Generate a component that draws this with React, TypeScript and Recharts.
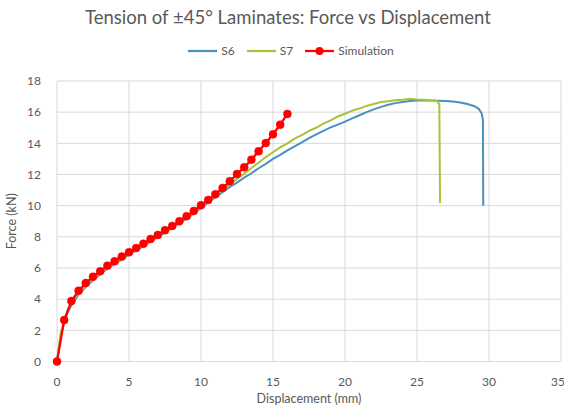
import React from 'react';
import { LineChart, Line, XAxis, YAxis, CartesianGrid, Label } from 'recharts';

const title = 'Tension of ±45° Laminates: Force vs Displacement';
const xTicks = [0, 5, 10, 15, 20, 25, 30, 35];
const yTicks = [0, 2, 4, 6, 8, 10, 12, 14, 16, 18];

// Simulation (red dots)
const simX = [0, 0.5, 1, 1.5, 2, 2.5, 3, 3.5, 4, 4.5, 5, 5.5, 6, 6.5, 7, 7.5, 8, 8.5, 9, 9.5, 10, 10.5, 11, 11.5, 12, 12.5, 13, 13.5, 14, 14.5, 15, 15.5, 16];
const simY = [0, 2.66, 3.88, 4.54, 5.04, 5.44, 5.79, 6.15, 6.43, 6.73, 7.01, 7.28, 7.56, 7.86, 8.12, 8.42, 8.7, 9.0, 9.32, 9.66, 10.03, 10.37, 10.73, 11.14, 11.57, 12.03, 12.46, 12.95, 13.49, 14.02, 14.58, 15.2, 15.89];

// S6 test (blue)
const s6X = [0, 0.25, 0.5, 0.75, 1, 1.5, 2, 2.5, 3, 3.5, 4, 4.5, 5, 5.5, 6, 6.5, 7, 7.5, 8, 8.5, 9, 9.5, 10, 10.5, 11, 11.5, 12, 12.5, 13, 13.5, 14, 14.5, 15, 15.5, 16, 16.5, 17, 17.5, 18, 18.5, 19, 19.5, 20, 20.5, 21, 21.5, 22, 22.5, 23, 23.5, 24, 24.5, 25, 25.5, 26, 26.5, 27, 27.5, 28, 28.5, 29, 29.3, 29.5, 29.58, 29.6];
const s6Y = [0, 1.6, 2.5, 3.15, 3.6, 4.3, 4.8, 5.22, 5.6, 5.95, 6.25, 6.55, 6.85, 7.13, 7.4, 7.7, 7.98, 8.28, 8.57, 8.87, 9.17, 9.5, 9.85, 10.2, 10.55, 10.86, 11.2, 11.48, 11.8, 12.08, 12.4, 12.68, 13.0, 13.26, 13.55, 13.8, 14.06, 14.34, 14.58, 14.8, 15.02, 15.2, 15.39, 15.6, 15.8, 16.0, 16.18, 16.34, 16.47, 16.58, 16.65, 16.71, 16.75, 16.76, 16.75, 16.74, 16.72, 16.68, 16.62, 16.52, 16.38, 16.2, 15.9, 15.5, 10.0];

// S7 test (green)
const s7X = [0, 0.25, 0.5, 0.75, 1, 1.5, 2, 2.5, 3, 3.5, 4, 4.5, 5, 5.5, 6, 6.5, 7, 7.5, 8, 8.5, 9, 9.5, 10, 10.5, 11, 11.5, 12, 12.5, 13, 13.5, 14, 14.5, 15, 15.5, 16, 16.5, 17, 17.5, 18, 18.5, 19, 19.5, 20, 20.5, 21, 21.5, 22, 22.5, 23, 23.5, 24, 24.5, 25, 25.5, 26, 26.4, 26.55, 26.6];
const s7Y = [0, 1.8, 2.65, 3.3, 3.75, 4.4, 4.9, 5.3, 5.67, 6.02, 6.32, 6.62, 6.92, 7.2, 7.47, 7.76, 8.05, 8.35, 8.64, 8.94, 9.25, 9.58, 9.92, 10.28, 10.65, 11.0, 11.35, 11.72, 12.05, 12.42, 12.75, 13.12, 13.43, 13.74, 14.0, 14.3, 14.52, 14.8, 15.0, 15.26, 15.47, 15.72, 15.9, 16.1, 16.23, 16.4, 16.52, 16.65, 16.7, 16.77, 16.8, 16.86, 16.82, 16.8, 16.75, 16.72, 16.5, 10.15];

const toPoints = (xs: number[], ys: number[]) => xs.map((x, i) => ({ x, y: ys[i] }));
const simData = toPoints(simX, simY);
const s6Data = toPoints(s6X, s6Y);
const s7Data = toPoints(s7X, s7Y);

const FONT = 'Lato, "Open Sans", sans-serif';
const TEXT = '#595959';
const BLUE = '#4A90C0';
const GREEN = '#A8C23A';
const RED = '#FF0000';

const LegendItem: React.FC<{ color: string; label: string; dot?: boolean }> = ({ color, label, dot }) => (
  <span style={{ display: 'inline-flex', alignItems: 'center', marginRight: 12 }}>
    <svg width={29} height={10} style={{ marginRight: 4 }}>
      <line x1={0} y1={5} x2={29} y2={5} stroke={color} strokeWidth={2.25} />
      {dot && <circle cx={14.5} cy={5} r={4} fill={color} />}
    </svg>
    {label}
  </span>
);

const App: React.FC = () => {
  return (
    <div style={{ position: 'absolute', left: 0, top: 0, width: 564, height: 407, background: '#fff', fontFamily: FONT }}>
      <div style={{ position: 'absolute', top: 6, left: 0, width: 576, textAlign: 'center', fontSize: 18.5, color: TEXT }}>
        {title}
      </div>
      <div style={{ position: 'absolute', top: 43, left: 0, width: 594, textAlign: 'center', fontSize: 12, color: TEXT, display: 'flex', justifyContent: 'center' }}>
        <LegendItem color={BLUE} label="S6" />
        <LegendItem color={GREEN} label="S7" />
        <LegendItem color={RED} label="Simulation" dot />
      </div>
      <LineChart width={564} height={407} margin={{ top: 81, right: 3, bottom: 0.5, left: 0 }} style={{ position: 'absolute', left: 0, top: 0 }}>
        <CartesianGrid stroke="#D9D9D9" strokeWidth={1} />
        <XAxis
          type="number"
          dataKey="x"
          domain={[0, 35]}
          ticks={xTicks}
          height={45}
          stroke="#D9D9D9"
          tickLine={false}
          tickMargin={10}
          tick={{ fill: TEXT, fontSize: 12, fontFamily: FONT }}
        >
          <Label value="Displacement (mm)" position="insideBottom" offset={4} style={{ fill: TEXT, fontSize: 12.5, fontFamily: FONT }} />
        </XAxis>
        <YAxis
          type="number"
          dataKey="y"
          domain={[0, 18]}
          ticks={yTicks}
          width={57}
          axisLine={false}
          tickLine={false}
          tickMargin={10}
          tick={{ fill: TEXT, fontSize: 12, fontFamily: FONT }}
        >
          <Label value="Force (kN)" angle={-90} position="insideLeft" offset={12} style={{ fill: TEXT, fontSize: 12.5, fontFamily: FONT, textAnchor: 'middle' }} />
        </YAxis>
        <Line data={s6Data} dataKey="y" type="linear" stroke={BLUE} strokeWidth={2} dot={false} isAnimationActive={false} />
        <Line data={s7Data} dataKey="y" type="linear" stroke={GREEN} strokeWidth={2} dot={false} isAnimationActive={false} />
        <Line data={simData} dataKey="y" type="linear" stroke={RED} strokeWidth={2.25} dot={{ r: 4, fill: RED, stroke: RED, strokeWidth: 0.5 }} isAnimationActive={false} />
      </LineChart>
    </div>
  );
};

export default App;
